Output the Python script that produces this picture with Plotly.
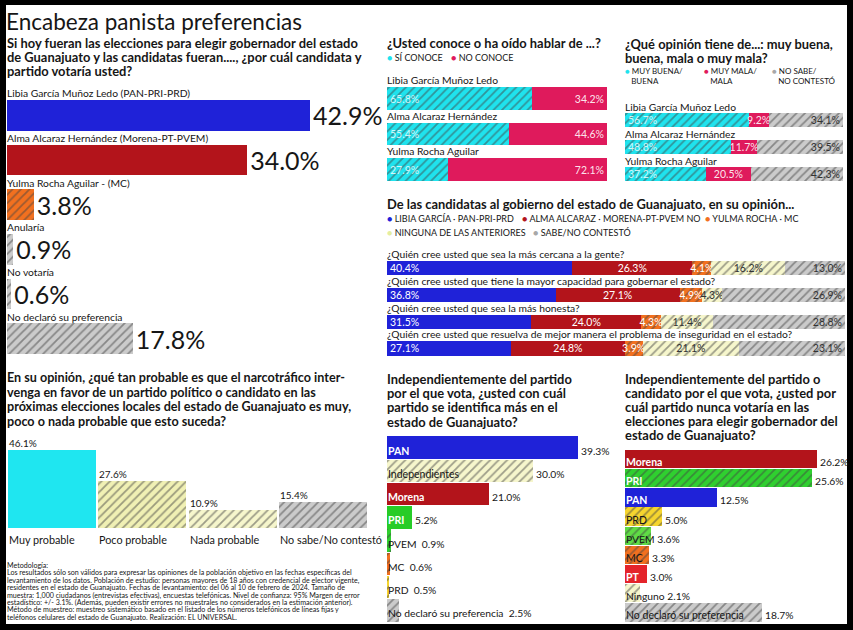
import plotly.graph_objects as go

W, H = 853, 630
FONT = "Lato, Roboto, Liberation Sans, sans-serif"
DARK = "#161616"

# ---------------- DATA ----------------
vote_names = ["Libia García Muñoz Ledo (PAN-PRI-PRD)", "Alma Alcaraz Hernández (Morena-PT-PVEM)",
              "Yulma Rocha Aguilar - (MC)", "Anularía", "No votaría", "No declaró su preferencia"]
vote_values = [42.9, 34.0, 3.8, 0.9, 0.6, 17.8]
vote_styles = ["blue", "red", "orange", "gray", "gray", "gray"]

cand_short = ["Libia García Muñoz Ledo", "Alma Alcaraz Hernández", "Yulma Rocha Aguilar"]
conoce_si = [65.8, 55.4, 27.9]
conoce_no = [34.2, 44.6, 72.1]

op_buena = [56.7, 48.8, 37.2]
op_mala = [9.2, 11.7, 20.5]
op_nosabe = [34.1, 39.5, 42.3]

questions = ["¿Quién cree usted que sea la más cercana a la gente?",
             "¿Quién cree usted que tiene la mayor capacidad para gobernar el estado?",
             "¿Quién cree usted que sea la más honesta?",
             "¿Quién cree usted que resuelva de mejor manera el problema de inseguridad en el estado?"]
q_libia = [40.4, 36.8, 31.5, 27.1]
q_alma = [26.3, 27.1, 24.0, 24.8]
q_yulma = [4.1, 4.9, 4.3, 3.9]
q_ninguna = [16.2, 4.3, 11.4, 21.1]
q_nosabe = [13.0, 26.9, 28.8, 23.1]

narco_cats = ["Muy probable", "Poco probable", "Nada probable", "No sabe/No contestó"]
narco_values = [46.1, 27.6, 10.9, 15.4]
narco_styles = ["cyansolid", "yellowdk", "yellow", "gray"]

ident_parties = ["PAN", "Independientes", "Morena", "PRI", "PVEM", "MC", "PRD", "No declaró su preferencia"]
ident_values = [39.3, 30.0, 21.0, 5.2, 0.9, 0.6, 0.5, 2.5]
ident_styles = ["blue", "yellow", "red", "greensolid", "green", "orange", "prd", "gray"]
ident_inline = {"PVEM", "MC", "PRD", "No declaró su preferencia"}

nunca_parties = ["Morena", "PRI", "PAN", "PRD", "PVEM", "MC", "PT", "Ninguno", "No declaró su preferencia"]
nunca_values = [26.2, 25.6, 12.5, 5.0, 3.6, 3.3, 3.0, 2.1, 18.7]
nunca_styles = ["red", "green", "blue", "prd", "ltgreen", "orange", "pt", "yellow", "gray"]
nunca_inline = {"PVEM", "Ninguno"}

methodology = [
    "Metodología:",
    "Los resultados sólo son válidos para expresar las opiniones de la población objetivo en las fechas específicas del",
    "levantamiento de los datos. Población de estudio: personas mayores de 18 años con credencial de elector vigente,",
    "residentes en el estado de Guanajuato. Fechas de levantamiento: del 06 al 10 de febrero de 2024. Tamaño de",
    "muestra: 1,000 ciudadanos (entrevistas efectivas), encuestas telefónicas. Nivel de confianza: 95% Margen de error",
    "estadístico: +/- 3.1%. (Además, pueden existir errores no muestrales no considerados en la estimación anterior).",
    "Método de muestreo: muestreo sistemático basado en el listado de los números telefónicos de líneas fijas y",
    "teléfonos celulares del estado de Guanajuato. Realización: EL UNIVERSAL.",
]

# ---------------- STYLES ----------------
STY = {
    "blue": ("#1f22d8", "#1f22d8", ""),
    "red": ("#b3141b", "#b3141b", ""),
    "orange": ("#f2701f", "#c9520f", "/"),
    "gray": ("#cbcbcb", "#8a8a8a", "/"),
    "cyan": ("#1fe3ee", "#74eef4", "/"),
    "cyansolid": ("#1fe6f0", "#1fe6f0", ""),
    "magenta": ("#df1a5c", "#df1a5c", ""),
    "yellow": ("#f6f6cc", "#d4d47e", "/"),
    "yellowdk": ("#f0f0b4", "#cfcf6c", "/"),
    "green": ("#2fd02f", "#7be27b", "/"),
    "greensolid": ("#27cc27", "#27cc27", ""),
    "ltgreen": ("#5fdc45", "#3cb02a", "/"),
    "prd": ("#f6d52e", "#c7a50c", "/"),
    "pt": ("#e4242b", "#e4242b", ""),
}


def marker_for(keys):
    return dict(color=[STY[k][0] for k in keys], line=dict(width=0),
                pattern=dict(shape=[STY[k][2] for k in keys], bgcolor=[STY[k][0] for k in keys],
                             fgcolor=[STY[k][1] for k in keys], size=6, solidity=0.3))


fig = go.Figure()
axes = {}
anns = []


def make_axes(i, xpx, ypx, xrange=None, yrange=None, xcat=False, ycat=False):
    xn = "xaxis" if i == 1 else f"xaxis{i}"
    yn = "yaxis" if i == 1 else f"yaxis{i}"
    xa = "x" if i == 1 else f"x{i}"
    ya = "y" if i == 1 else f"y{i}"
    axes[xn] = dict(domain=[xpx[0] / W, xpx[1] / W], anchor=ya, visible=False, fixedrange=True,
                    range=xrange, type="category" if xcat else "linear")
    axes[yn] = dict(domain=[1 - ypx[1] / H, 1 - ypx[0] / H], anchor=xa, visible=False, fixedrange=True,
                    range=yrange, type="category" if ycat else "linear")
    return xa, ya


def note(text, x, y, xref="paper", yref="paper", size=11, color=DARK, bold=False,
         xanchor="left", yanchor="middle", family=FONT, xshift=0, yshift=0, weight=None):
    if xref == "paper":
        x = x / W
    if yref == "paper":
        y = 1 - y / H
    anns.append(dict(text=text, x=x, y=y, xref=xref, yref=yref, showarrow=False,
                     xanchor=xanchor, yanchor=yanchor, xshift=xshift, yshift=yshift, align="left",
                     font=dict(family=family, size=size, color=color,
                               weight=weight if weight else ("bold" if bold else "normal"))))


def lines(x, ys, texts, size=12.9, bold=True):
    """Multi-line text block with a tight line spacing given by the ys positions."""
    if len(texts) == 1:
        note(texts[0], x, ys[0], size=size, bold=bold)
        return
    spacing = (ys[-1] - ys[0]) / (len(ys) - 1)
    base = spacing / 1.3
    body = "<br>".join(f"<span style='font-size:{size}px'>{t}</span>" for t in texts)
    note(body, x, sum(ys) / len(ys), size=base, bold=bold)


def pct(vals):
    return [f"{v:.1f}%" for v in vals]


def dot(color, label):
    return f"<span style='color:{color}'>●</span> {label}"


LBL = 10.3

# ---------------- PANEL 1 ----------------
lines(4, [22], ["Encabeza panista preferencias"], size=22.5, bold=False)
lines(5, [43, 57, 71], ["Si hoy fueran las elecciones para elegir gobernador del estado",
                        "de Guanajuato y las candidatas fueran...., ¿por cuál candidata y",
                        "partido votaría usted?"])
xa, ya = make_axes(1, (7, 368), (93, 361), xrange=[0, 51.1],
                   yrange=[len(vote_names) - 0.5, -0.5], ycat=True)
fig.add_bar(x=vote_values, y=vote_names, orientation="h", xaxis=xa, yaxis=ya, width=0.68,
            marker=marker_for(vote_styles), text=pct(vote_values), textposition="outside",
            textfont=dict(family=FONT, size=25, color=DARK), cliponaxis=False, hoverinfo="skip")
for n in vote_names:
    note(n, 0, n, xref=xa, yref=ya, size=LBL, xshift=-2, yshift=22)

# ---------------- PANEL 2 ----------------
lines(385, [43], ["¿Usted conoce o ha oído hablar de ...?"])
note(dot("#1fe3ee", "SÍ CONOCE"), 385, 57, size=9)
note(dot("#df1a5c", "NO CONOCE"), 449, 57, size=9)
xa, ya = make_axes(2, (387, 607), (80.75, 187.25), xrange=[0, 100], yrange=[2.5, -0.5], ycat=True)
fig.add_bar(x=conoce_si, y=cand_short, orientation="h", xaxis=xa, yaxis=ya, width=0.63,
            marker=marker_for(["cyan"] * 3), text=pct(conoce_si), textposition="inside",
            insidetextanchor="start", insidetextfont=dict(family=FONT, size=10.5, color="rgba(255,255,255,0.8)"),
            hoverinfo="skip")
fig.add_bar(x=conoce_no, y=cand_short, orientation="h", xaxis=xa, yaxis=ya, width=0.63,
            marker=marker_for(["magenta"] * 3), text=pct(conoce_no), textposition="inside",
            insidetextanchor="end", insidetextfont=dict(family=FONT, size=10.5, color="rgba(255,255,255,0.9)"),
            hoverinfo="skip")
for n in cand_short:
    note(n, 0, n, xref=xa, yref=ya, size=LBL, xshift=-2, yshift=18.5)

# ---------------- PANEL 3 ----------------
lines(623, [44, 58], ["¿Qué opinión tiene de...: muy buena,", "buena, mala o muy mala?"])
note(dot("#1fe3ee", "MUY BUENA/") + "<br>\u00a0\u00a0\u00a0BUENA", 623, 75.5, size=8)
note(dot("#df1a5c", "MUY MALA/") + "<br>\u00a0\u00a0\u00a0MALA", 702, 75.5, size=8)
note(dot("#a8a8a8", "NO SABE/") + "<br>\u00a0\u00a0\u00a0NO CONTESTÓ", 770, 75.5, size=8)
xa, ya = make_axes(3, (625, 843), (106.5, 187.5), xrange=[0, 100], yrange=[2.5, -0.5], ycat=True)
fig.add_bar(x=op_buena, y=cand_short, orientation="h", xaxis=xa, yaxis=ya, width=0.53,
            marker=marker_for(["cyan"] * 3), text=pct(op_buena), textposition="inside",
            insidetextanchor="start", insidetextfont=dict(family=FONT, size=10.5, color="rgba(255,255,255,0.8)"),
            hoverinfo="skip")
fig.add_bar(x=op_mala, y=cand_short, orientation="h", xaxis=xa, yaxis=ya, width=0.53,
            marker=marker_for(["magenta"] * 3), text=pct(op_mala), textposition="inside",
            insidetextanchor="middle", insidetextfont=dict(family=FONT, size=10.5, color="rgba(255,255,255,0.9)"),
            hoverinfo="skip")
fig.add_bar(x=op_nosabe, y=cand_short, orientation="h", xaxis=xa, yaxis=ya, width=0.53,
            marker=marker_for(["gray"] * 3), text=pct(op_nosabe), textposition="inside",
            insidetextanchor="end", insidetextfont=dict(family=FONT, size=10.5, color="#333333"),
            hoverinfo="skip")
for n in cand_short:
    note(n, 0, n, xref=xa, yref=ya, size=LBL, xshift=-2, yshift=13)

# ---------------- PANEL 4 ----------------
lines(385, [204], ["De las candidatas al gobierno del estado de Guanajuato, en su opinión..."])
note(dot("#1f22d8", "LIBIA GARCÍA · PAN-PRI-PRD"), 385, 218, size=9)
note(dot("#b3141b", "ALMA ALCARAZ · MORENA-PT-PVEM NO"), 520, 218, size=9)
note(dot("#f2701f", "YULMA ROCHA · MC"), 703, 218, size=9)
note(dot("#e4eea0", "NINGUNA DE LAS ANTERIORES"), 385, 232, size=9)
note(dot("#a8a8a8", "SABE/NO CONTESTÓ"), 531, 232, size=9)
xa, ya = make_axes(4, (387, 845), (254.6, 361.9), xrange=[0, 100], yrange=[3.5, -0.5], ycat=True)
seg = [(q_libia, "blue", "start", "white"), (q_alma, "red", "middle", "white"),
       (q_yulma, "orange", "middle", "white"), (q_ninguna, "yellow", "middle", "#333333"),
       (q_nosabe, "gray", "end", "#333333")]
for vals, key, anchor, tc in seg:
    fig.add_bar(x=vals, y=questions, orientation="h", xaxis=xa, yaxis=ya, width=0.53,
                marker=marker_for([key] * len(vals)), text=pct(vals), textposition="inside",
                insidetextanchor=anchor, insidetextfont=dict(family=FONT, size=10.5, color=tc),
                hoverinfo="skip")
for q in questions:
    note(q, 0, q, xref=xa, yref=ya, size=LBL, xshift=-2, yshift=14)

# ---------------- PANEL 5 ----------------
lines(5, [377, 391.67, 406.33, 421],
      ["En su opinión, ¿qué tan probable es que el narcotráfico inter-",
       "venga en favor de un partido político o candidato en las",
       "próximas elecciones locales del estado de Guanajuato es muy,",
       "poco o nada probable que esto suceda?"], size=12.6)
xa, ya = make_axes(5, (7, 368), (440, 528), xrange=[-0.5, 3.5], yrange=[0, 52.0], xcat=True)
fig.add_bar(x=narco_cats, y=narco_values, xaxis=xa, yaxis=ya, width=0.975,
            marker=marker_for(narco_styles), hoverinfo="skip")
for c, v in zip(narco_cats, narco_values):
    note(f"{v:.1f}%", c, v, xref=xa, yref=ya, size=10, xshift=-45, yshift=7)
    note(c, c, 0, xref=xa, yref=ya, size=10.8, xshift=-45, yshift=-11)
meth_text = "<br>".join(f"<span style='font-size:7.1px'>{t}</span>" for t in methodology)
note(meth_text, 5, 591.5, size=5.7)

# ---------------- PANEL 6 ----------------
lines(385, [379, 393.2, 407.3, 421.5],
      ["Independientemente del partido", "por el que vota, ¿usted con cuál",
       "partido se identifica más en el", "estado de Guanajuato?"])
xa, ya = make_axes(6, (387, 620.3), (436, 622), xrange=[0, 48],
                   yrange=[len(ident_parties) - 0.5, -0.5], ycat=True)
fig.add_bar(x=ident_values, y=ident_parties, orientation="h", xaxis=xa, yaxis=ya, width=0.97,
            marker=marker_for(ident_styles), hoverinfo="skip")
for p, v, s in zip(ident_parties, ident_values, ident_styles):
    if p in ident_inline:
        note(f"{p}\u00a0\u00a0{v:.1f}%", 0, p, xref=xa, yref=ya, size=10.3, xshift=-1, yshift=-3)
    else:
        white = s in ("blue", "red", "greensolid")
        note(p, 0, p, xref=xa, yref=ya, size=10.5, bold=white, color="white" if white else DARK,
             xshift=-1, yshift=-3)
        note(f"{v:.1f}%", v, p, xref=xa, yref=ya, size=10.3, xshift=1, yshift=-3)

# ---------------- PANEL 7 ----------------
lines(623, [379, 393, 407, 421, 435],
      ["Independientemente del partido o", "candidato por el que vota, ¿usted por",
       "cuál partido nunca votaría en las", "elecciones para elegir gobernador del",
       "estado de Guanajuato?"])
xa, ya = make_axes(7, (625, 845), (449.5, 622), xrange=[0, 30.05],
                   yrange=[len(nunca_parties) - 0.5, -0.5], ycat=True)
fig.add_bar(x=nunca_values, y=nunca_parties, orientation="h", xaxis=xa, yaxis=ya, width=0.96,
            marker=marker_for(nunca_styles), hoverinfo="skip")
for p, v, s in zip(nunca_parties, nunca_values, nunca_styles):
    if p in nunca_inline:
        note(f"{p} {v:.1f}%", 0, p, xref=xa, yref=ya, size=10.3, xshift=-1, yshift=-3)
    else:
        white = s in ("blue", "red", "green", "pt")
        note(p, 0, p, xref=xa, yref=ya, size=10.5, bold=white, color="white" if white else DARK,
             xshift=-1, yshift=-3)
        note(f"{v:.1f}%", v, p, xref=xa, yref=ya, size=10.3, xshift=1, yshift=-3)

fig.update_traces(constraintext="none")
fig.update_layout(
    width=W, height=H, margin=dict(l=0, r=0, t=0, b=0),
    paper_bgcolor="black", plot_bgcolor="white",
    barmode="stack", bargap=0, showlegend=False,
    font=dict(family=FONT, color=DARK),
    annotations=anns,
    shapes=[dict(type="rect", xref="paper", yref="paper", x0=6 / W, x1=847 / W,
                 y0=1 - 624 / H, y1=1 - 5 / H, fillcolor="white", line=dict(width=0), layer="below")],
    **axes,
)
fig.write_html("out.html", config={"displayModeBar": False, "staticPlot": True},
               post_script="document.body.style.margin='0';document.body.style.overflow='hidden';")
